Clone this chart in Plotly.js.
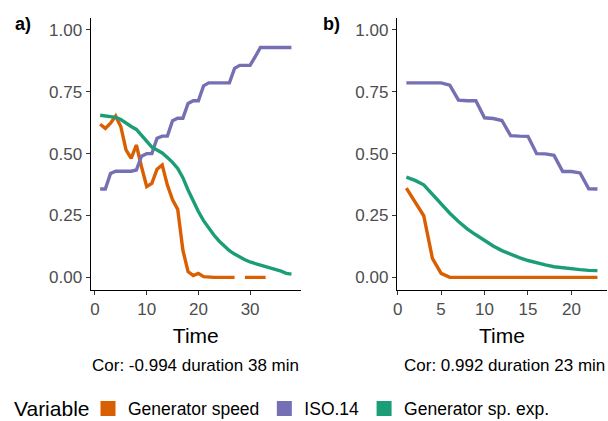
<!DOCTYPE html>
<html>
<head>
<meta charset="utf-8">
<script src="https://cdn.plot.ly/plotly-3.0.1.min.js"></script>
<style>html,body{margin:0;padding:0;background:#fff}#chart{width:608px;height:421px}</style>
</head>
<body>
<div id="chart"></div>
<script>
// ---- Data ----
var seriesNames = ["Generator speed", "ISO.14", "Generator sp. exp."];
var seriesColors = ["#D95F02", "#7570B3", "#1B9E77"];

// Panel a) (38 min)
var timeA = [];
for (var i = 1; i <= 38; i++) timeA.push(i);
var genSpeedA = [0.619, 0.602, 0.623, 0.652, 0.609, 0.515, 0.481, 0.535, 0.447, 0.367,
                 0.380, 0.437, 0.454, 0.373, 0.313, 0.275, 0.110, 0.023, 0.007, 0.016,
                 0.003, 0, 0, 0, 0, 0, 0, null, 0, 0,
                 0, 0, 0, null, null, null, null, null];
var isoA = [0.357, 0.357, 0.420, 0.429, 0.429, 0.429, 0.429, 0.434, 0.490, 0.500,
            0.500, 0.562, 0.571, 0.571, 0.633, 0.643, 0.643, 0.703, 0.714, 0.714,
            0.774, 0.786, 0.786, 0.786, 0.786, 0.786, 0.845, 0.857, 0.857, 0.857,
            0.892, 0.929, 0.929, 0.929, 0.929, 0.929, 0.929, 0.929];
var genExpA = [0.655, 0.652, 0.650, 0.647, 0.638, 0.622, 0.610, 0.598, 0.575, 0.549,
               0.526, 0.515, 0.503, 0.484, 0.465, 0.440, 0.403, 0.353, 0.306, 0.266,
               0.229, 0.198, 0.171, 0.147, 0.127, 0.108, 0.094, 0.082, 0.071, 0.062,
               0.056, 0.050, 0.045, 0.040, 0.034, 0.025, 0.016, 0.013];

// Panel b) (23 min)
var timeB = [];
for (var j = 1; j <= 23; j++) timeB.push(j);
var genSpeedB = [0.361, 0.307, 0.249, 0.077, 0.016, 0, 0, 0, 0, 0,
                 0, 0, 0, 0, 0, 0, 0, 0, 0, 0,
                 0, 0, 0];
var isoB = [0.786, 0.786, 0.786, 0.786, 0.786, 0.777, 0.716, 0.714, 0.714, 0.645,
            0.642, 0.634, 0.573, 0.571, 0.570, 0.500, 0.499, 0.493, 0.428, 0.428,
            0.422, 0.358, 0.357];
var genExpB = [0.405, 0.392, 0.374, 0.334, 0.296, 0.259, 0.226, 0.196, 0.172, 0.149,
               0.127, 0.108, 0.093, 0.080, 0.068, 0.058, 0.050, 0.043, 0.038, 0.034,
               0.031, 0.028, 0.027];

var yTicks = [0, 0.25, 0.5, 0.75, 1];
var xTicksA = [0, 10, 20, 30];
var xTicksB = [0, 5, 10, 15, 20];
var captionA = "Cor: -0.994 duration 38 min";
var captionB = "Cor: 0.992 duration 23 min";
var legendTitle = "Variable";

// ---- Traces ----
var FONT = "Liberation Sans, Arial, sans-serif";
var LW = 3.4;
function line(x, y, k, xa, ya) {
  return {type: "scatter", mode: "lines", x: x, y: y, name: seriesNames[k],
          line: {color: seriesColors[k], width: LW}, connectgaps: false,
          showlegend: false, xaxis: xa, yaxis: ya, hoverinfo: "skip"};
}
var traces = [
  line(timeA, genSpeedA, 0, "x", "y"),
  line(timeA, isoA, 1, "x", "y"),
  line(timeA, genExpA, 2, "x", "y"),
  line(timeB, genSpeedB, 0, "x2", "y2"),
  line(timeB, isoB, 1, "x2", "y2"),
  line(timeB, genExpB, 2, "x2", "y2")
];
// legend keys (square swatches)
for (var k = 0; k < 3; k++) {
  traces.push({type: "scatter", mode: "markers", x: [null], y: [null], name: seriesNames[k],
               marker: {symbol: "square", size: 15, color: seriesColors[k]},
               showlegend: true, xaxis: "x", yaxis: "y", hoverinfo: "skip"});
}

var W = 608, H = 421;
function xd(a, b) { return [a / W, b / W]; }
var yDom = [(H - 289.7) / H, (H - 17.6) / H];

function xaxis(dom, rng, ticks, anchor) {
  return {domain: dom, range: rng, tickvals: ticks, ticktext: ticks.map(String),
          showline: true, linecolor: "#000", linewidth: 1, mirror: false,
          ticks: "outside", ticklen: 4, tickwidth: 1, tickcolor: "#333",
          showgrid: false, zeroline: false, anchor: anchor,
          tickfont: {family: FONT, size: 17, color: "#4D4D4D"},
          title: {text: "Time", font: {family: FONT, size: 21, color: "#000"}, standoff: 10},
          automargin: false, fixedrange: true};
}
function yaxis(anchor) {
  return {domain: yDom, range: [-0.05, 1.05], tickvals: yTicks,
          ticktext: yTicks.map(function (v) { return v.toFixed(2); }),
          showline: true, linecolor: "#000", linewidth: 1,
          ticks: "outside", ticklen: 4, tickwidth: 1, tickcolor: "#333",
          showgrid: false, zeroline: false, anchor: anchor,
          tickfont: {family: FONT, size: 17, color: "#4D4D4D"},
          automargin: false, fixedrange: true};
}

var layout = {
  width: W, height: H,
  margin: {l: 0, r: 0, t: 0, b: 0, autoexpand: false},
  paper_bgcolor: "#fff", plot_bgcolor: "#fff",
  font: {family: FONT, color: "#000"},
  xaxis: xaxis(xd(90.6, 301), [-0.85, 39.85], xTicksA, "y"),
  yaxis: yaxis("x"),
  xaxis2: xaxis(xd(396.8, 607), [-0.1, 24.1], xTicksB, "y2"),
  yaxis2: yaxis("x2"),
  showlegend: true,
  legend: {orientation: "h", x: 88 / W, xanchor: "left", y: 12.5 / H, yanchor: "middle",
           font: {family: FONT, size: 17.5, color: "#000"}, bgcolor: "rgba(0,0,0,0)",
           itemwidth: 30, traceorder: "normal"},
  annotations: [
    {text: legendTitle, xref: "paper", yref: "paper", x: 12 / W, y: 12.5 / H,
     xanchor: "left", yanchor: "middle", showarrow: false, font: {family: FONT, size: 21, color: "#000"}},
    {text: "<b>a)</b>", xref: "paper", yref: "paper", x: 13 / W, y: (H - 24) / H,
     xanchor: "left", yanchor: "middle", showarrow: false, font: {family: FONT, size: 18, color: "#000"}},
    {text: "<b>b)</b>", xref: "paper", yref: "paper", x: 321 / W, y: (H - 24) / H,
     xanchor: "left", yanchor: "middle", showarrow: false, font: {family: FONT, size: 18, color: "#000"}},
    {text: captionA, xref: "paper", yref: "paper", x: 301 / W, y: (H - 365.5) / H,
     xanchor: "right", yanchor: "middle", showarrow: false, font: {family: FONT, size: 17, color: "#000"}},
    {text: captionB, xref: "paper", yref: "paper", x: 607 / W, y: (H - 365.5) / H,
     xanchor: "right", yanchor: "middle", showarrow: false, font: {family: FONT, size: 17, color: "#000"}}
  ]
};

Plotly.newPlot("chart", traces, layout, {staticPlot: true, displayModeBar: false});
</script>
</body>
</html>
